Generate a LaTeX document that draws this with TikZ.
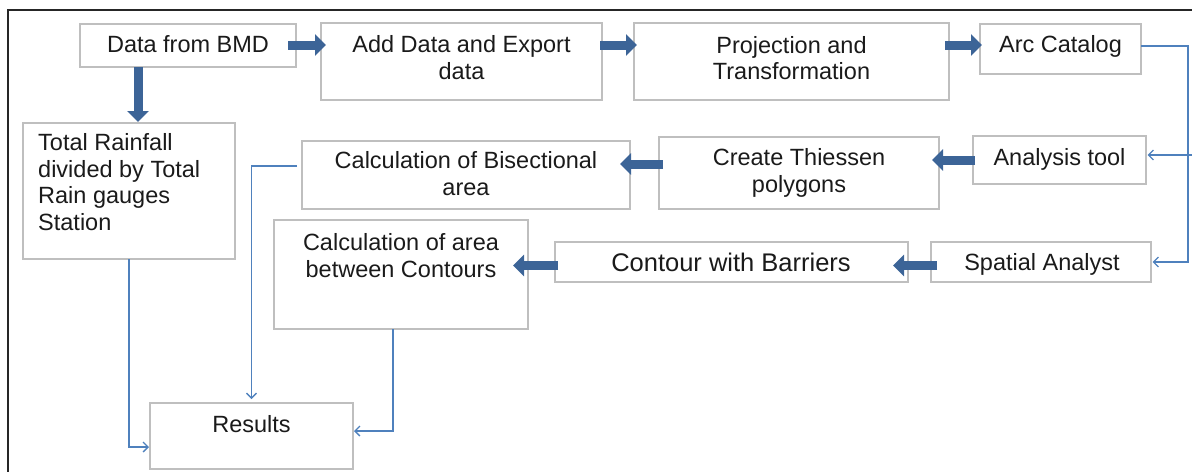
\documentclass[tikz,border=0pt]{standalone}
\usepackage{fontspec}
\setmainfont{Liberation Sans}
\usetikzlibrary{arrows.meta}
\definecolor{boxgray}{HTML}{BFBFBF}
\definecolor{thickblue}{HTML}{3C6497}
\definecolor{thinblue}{HTML}{4F81BD}
\definecolor{txtcol}{HTML}{1A1A1A}
\begin{document}
\begin{tikzpicture}[x=1pt,y=-1pt,
  box/.style={draw=boxgray, line width=1.3pt, inner sep=0pt, outer sep=0pt, anchor=north west},
  txt/.style={inner sep=0pt, anchor=base, align=center, text=txtcol, font=\fontsize{23.5}{26.7}\selectfont},
  fat/.style={draw=thickblue, line width=9pt, -{Triangle[length=11pt,width=21pt]}},
  slim/.style={draw=thinblue, line width=1.2pt, -{Straight Barb[length=5pt,width=10pt,line width=1.3pt]}}
]
\useasboundingbox (0,0) rectangle (1192,472);
% outer frame
\draw[line width=1.5pt, draw=black!85] (1192,10) -- (8,10) -- (8,472);
% boxes
\node[box, minimum width=216pt, minimum height=43pt] (bmd) at (80,24) {};
\node[box, minimum width=281pt, minimum height=77pt] (add) at (321,23) {};
\node[box, minimum width=315pt, minimum height=77pt] (proj) at (634,23) {};
\node[box, minimum width=161pt, minimum height=50pt] (arc) at (980,24) {};
\node[box, minimum width=212pt, minimum height=136pt] (rain) at (23,123) {};
\node[box, minimum width=328pt, minimum height=68pt] (bis) at (302,141) {};
\node[box, minimum width=280pt, minimum height=72pt] (thi) at (659,137) {};
\node[box, minimum width=173pt, minimum height=48pt] (ana) at (973,136) {};
\node[box, minimum width=254pt, minimum height=109pt] (carea) at (274,220) {};
\node[box, minimum width=353pt, minimum height=40pt] (cont) at (555,242) {};
\node[box, minimum width=220pt, minimum height=40pt] (spa) at (931,242) {};
\node[box, minimum width=203pt, minimum height=66pt] (res) at (150,403) {};
% texts (anchor base = baseline of last line)
\node[txt] (tbmd) at (188,52.5) {Data from BMD};
\node[txt] (tadd) at (461.5,79.2) {Add Data and Export\\data};
\node[txt] (tproj) at (791.5,79.7) {Projection and\\Transformation};
\node[txt] (tarc) at (1060.5,52.5) {Arc Catalog};
\node[txt, anchor=base west, align=left] (train) at (38,230.6) {Total Rainfall\\divided by Total\\Rain gauges\\Station};
\node[txt] (tbis) at (466,195.2) {Calculation of Bisectional\\area};
\node[txt] (tthi) at (799,192.2) {Create Thiessen\\polygons};
\node[txt] (tana) at (1059.5,165.5) {Analysis tool};
\node[txt] (tcarea) at (401,277.2) {Calculation of area\\between Contours};
\node[txt, font=\fontsize{25.5}{28}\selectfont] (tcont) at (731,271.5) {Contour with Barriers};
\node[txt] (tspa) at (1042,270.5) {Spatial Analyst};
\node[txt] (tres) at (251.5,432.5) {Results};
% coordinates for connector routing
\coordinate (rowtop) at (0,45);
\coordinate (bmddown) at (138,67);
\coordinate (rowthi) at (0,164);
\coordinate (rowana) at (0,160);
\coordinate (rowcont) at (0,265.5);
% thick arrows
\draw[fat, shorten <=-8pt, shorten >=-5pt] (bmd.east |- rowtop) -- (add.west |- rowtop);
\draw[fat, shorten <=-2pt, shorten >=-3pt] (add.east |- rowtop) -- (proj.west |- rowtop);
\draw[fat, shorten <=-4pt, shorten >=-2pt] (proj.east |- rowtop) -- (arc.west |- rowtop);
\draw[fat, shorten >=1pt] (bmddown) -- (bmddown |- rain.north);
\draw[fat, shorten <=-2pt, shorten >=-7pt] (ana.west |- rowana) -- (thi.east |- rowana);
\draw[fat, shorten <=-4pt, shorten >=-10pt] (thi.west |- rowthi) -- (bis.east |- rowthi);
\draw[fat, shorten <=-6pt, shorten >=-15pt] (spa.west |- rowcont) -- (cont.east |- rowcont);
\draw[fat, shorten <=-3pt, shorten >=-15pt] (cont.west |- rowcont) -- (carea.east |- rowcont);
% thin connectors
\coordinate (rx) at (1188,46);
\coordinate (redge) at (1192,155);
\draw[slim, shorten >=1.5pt] (arc.east |- rx) -- (rx) -- (rx |- spa.east) -- (spa.east);
\draw[slim, shorten >=1.5pt] (redge) -- (ana.east |- redge);
\coordinate (bx) at (251.5,166);
\draw[slim, shorten >=4pt] ([xshift=-5pt]bis.west |- bx) -- (bx) -- (bx |- res.north);
\coordinate (rny) at (129,447);
\draw[slim, shorten >=1pt] (rain.south -| rny) -- (rny) -- (res.west |- rny);
\coordinate (cy) at (393,431);
\draw[slim, shorten >=1pt] (carea.south -| cy) -- (cy) -- (res.east |- cy);
\end{tikzpicture}
\end{document}
